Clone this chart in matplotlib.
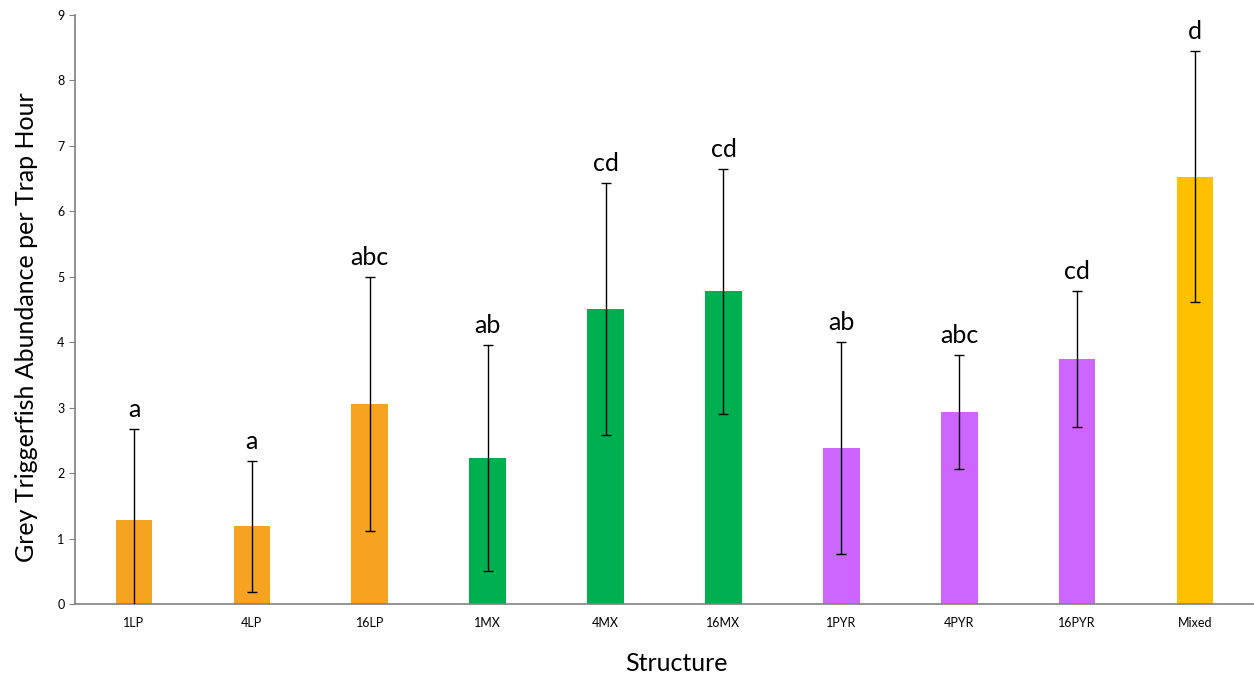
import matplotlib.pyplot as plt

structures = ['1LP', '4LP', '16LP', '1MX', '4MX', '16MX', '1PYR', '4PYR', '16PYR', 'Mixed']
means = [1.29, 1.19, 3.06, 2.23, 4.51, 4.78, 2.38, 2.94, 3.74, 6.53]
errors = [1.38, 1.00, 1.94, 1.73, 1.92, 1.87, 1.62, 0.87, 1.04, 1.92]
groups = ['a', 'a', 'abc', 'ab', 'cd', 'cd', 'ab', 'abc', 'cd', 'd']
colors = ['#F5A320'] * 3 + ['#00B050'] * 3 + ['#CC66FF'] * 3 + ['#FFC000']

plt.rcParams['font.family'] = ['Lato', 'DejaVu Sans']

fig = plt.figure(figsize=(12.54, 6.81), dpi=100)
ax = fig.add_axes([0.0598, 0.113, 0.9402, 0.865])

x = range(len(structures))
ax.bar(x, means, width=0.31, color=colors, zorder=2)
ax.errorbar(x, means, yerr=errors, fmt='none', ecolor='black',
            elinewidth=1, capsize=3.5, capthick=1, zorder=3)

for i in x:
    ax.text(i, means[i] + errors[i] + 0.12, groups[i], ha='center', va='bottom',
            fontsize=18)

ax.set_xlim(-0.5, 9.5)
ax.set_ylim(0, 9)
ax.set_yticks(range(0, 10))
ax.set_xticks(list(x))
ax.set_xticklabels(structures, fontsize=9)
ax.tick_params(axis='x', length=0, pad=9)
ax.tick_params(axis='y', length=4, labelsize=9, color='#808080')

for side in ['top', 'right']:
    ax.spines[side].set_visible(False)
for side in ['left', 'bottom']:
    ax.spines[side].set_color('#808080')
    ax.spines[side].set_linewidth(1.2)

ax.set_ylabel('Grey Triggerfish Abundance per Trap Hour', fontsize=18)
ax.set_xlabel('Structure', fontsize=18)
ax.yaxis.set_label_coords(-0.031, 0.47)
ax.xaxis.set_label_coords(0.51, -0.082)

fig.savefig('out.png', dpi=100)
